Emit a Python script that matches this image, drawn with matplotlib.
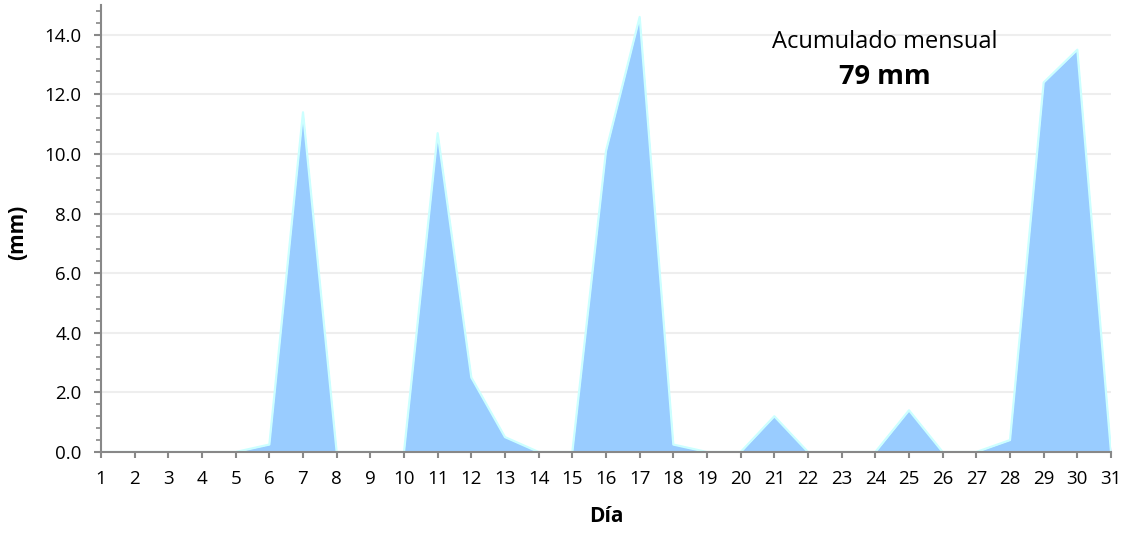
import matplotlib.pyplot as plt
from matplotlib.ticker import MultipleLocator, FormatStrFormatter

# daily rainfall (mm)
days = list(range(1, 32))
rain = [0, 0, 0, 0, 0, 0.25, 11.4, 0, 0, 0,
        10.7, 2.5, 0.5, 0, 0, 10.1, 14.6, 0.25, 0, 0,
        1.2, 0, 0, 0, 1.4, 0, 0, 0.4, 12.4, 13.5, 0]
total_label = "79 mm"

plt.rcParams['font.family'] = ['Open Sans', 'DejaVu Sans']

W, H = 1129, 533
fig = plt.figure(figsize=(W / 100, H / 100), dpi=100)
ax = fig.add_axes([101 / W, 1 - 452 / H, 1010 / W, 447 / H])

ax.fill_between(days, rain, 0, color='#99ccff', linewidth=0, zorder=2)
ax.plot(days, rain, color='#ccffff', linewidth=1.6, zorder=3)

# x axis
ax.set_xlim(1, 31)
ax.set_xticks(days)

# y axis
ax.set_ylim(0, 15)
ax.yaxis.set_major_locator(MultipleLocator(2))
ax.yaxis.set_minor_locator(MultipleLocator(0.4))
ax.yaxis.set_major_formatter(FormatStrFormatter('%.1f'))

ax.grid(axis='y', color='#eeeeee', linewidth=1.5, zorder=0)
ax.set_axisbelow(True)

for s in ('top', 'right'):
    ax.spines[s].set_visible(False)
for s in ('left', 'bottom'):
    ax.spines[s].set_color('#888888')
    ax.spines[s].set_linewidth(1.5)
    ax.spines[s].set_zorder(4)

ax.tick_params(axis='x', which='major', color='#888888', width=1.5,
               length=4, labelsize=13.5, pad=9)
ax.tick_params(axis='y', which='major', color='#888888', width=1.5,
               length=5, labelsize=13.5, pad=9)
ax.tick_params(axis='y', which='minor', color='#888888', width=1.2, length=3.5)

# axis titles
fig.text(606 / W, 1 - 516 / H, 'Día', fontsize=15, fontweight='bold',
         ha='center', va='center')
fig.text(18 / W, 1 - 232 / H, '(mm)', fontsize=15, fontweight='bold',
         rotation=90, ha='center', va='center')

# monthly total
fig.text(885 / W, 1 - 42 / H, 'Acumulado mensual', fontsize=17,
         ha='center', va='center')
fig.text(885 / W, 1 - 77 / H, total_label, fontsize=19.5, fontweight='bold',
         ha='center', va='center')

fig.savefig('out.png', dpi=100)
